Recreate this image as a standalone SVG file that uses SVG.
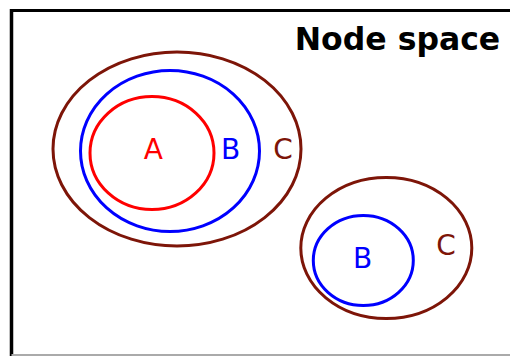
<svg xmlns="http://www.w3.org/2000/svg" width="510" height="356" viewBox="0 0 510 356">
<style>
.c{fill:none;stroke:#7d1508;stroke-width:3}
.b{fill:none;stroke:#0000ff;stroke-width:3}
.a{fill:none;stroke:#ff0000;stroke-width:3}
.t{font-family:"DejaVu Sans",sans-serif;font-size:28px;text-anchor:middle}
</style>
<rect width="510" height="356" fill="#ffffff"/>
<g id="frame">
<line x1="11.5" y1="10.5" x2="510" y2="10.5" stroke="#000" stroke-width="3"/>
<line x1="11.5" y1="9" x2="11.5" y2="356" stroke="#000" stroke-width="3.5"/>
<line x1="11.5" y1="355" x2="510" y2="355" stroke="#aaaaaa" stroke-width="2"/>
</g>
<text x="397.5" y="50" font-family="DejaVu Sans, sans-serif" font-size="31.5" font-weight="bold" text-anchor="middle">Node space</text>
<g id="C1"><ellipse class="c" cx="177" cy="149" rx="124" ry="97"/><text class="t" x="283" y="158.5" fill="#7d1508">C</text></g>
<g id="B1"><ellipse class="b" cx="170" cy="151" rx="89.5" ry="80.5"/><text class="t" x="230.5" y="158.5" fill="#0000ff">B</text></g>
<g id="A1"><ellipse class="a" cx="152" cy="153" rx="62" ry="56.5"/><text class="t" x="153.3" y="159.3" fill="#ff0000">A</text></g>
<g id="C2"><ellipse class="c" cx="386.3" cy="248" rx="85.5" ry="70.5"/><text class="t" x="446" y="255" fill="#7d1508">C</text></g>
<g id="B2"><ellipse class="b" cx="363.3" cy="260.5" rx="50" ry="45"/><text class="t" x="362.5" y="267.7" fill="#0000ff">B</text></g>
<g id="connectors"/>
</svg>
